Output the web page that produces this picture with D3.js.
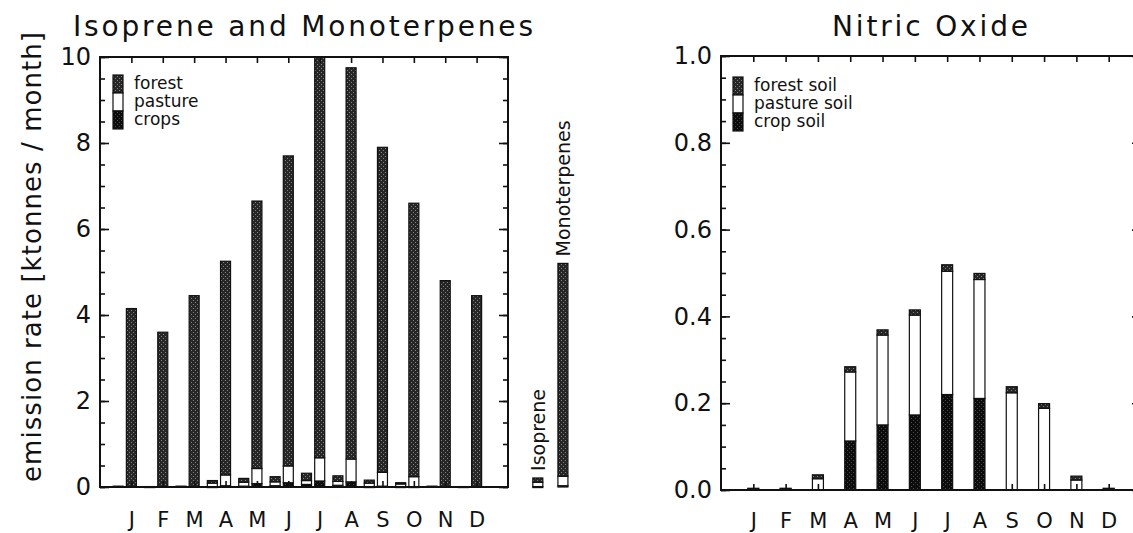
<!DOCTYPE html>
<html>
<head>
<meta charset="utf-8">
<script src="https://cdn.jsdelivr.net/npm/d3@7"></script>
<style>
body { margin: 0; background: #fff; }
text { font-family: "DejaVu Sans", sans-serif; fill: #111; }
</style>
</head>
<body>
<svg id="chart" width="1133" height="533"></svg>
<script>
// month labels
const months = ["J", "F", "M", "A", "M", "J", "J", "A", "S", "O", "N", "D"];

// Isoprene and Monoterpenes, ktonnes / month
const monoForest  = [4.15, 3.6, 4.45, 4.97, 6.22, 7.21, 9.62, 9.10, 7.56, 6.36, 4.8, 4.45];
const monoPasture = [0, 0, 0, 0.25, 0.35, 0.39, 0.54, 0.53, 0.32, 0.23, 0, 0];
const monoCrops   = [0, 0, 0, 0.03, 0.08, 0.10, 0.14, 0.12, 0.02, 0.01, 0, 0];

const isoForest  = [0.02, 0.01, 0.02, 0.06, 0.09, 0.12, 0.17, 0.13, 0.07, 0.03, 0.02, 0.01];
const isoPasture = [0, 0, 0, 0.08, 0.09, 0.09, 0.09, 0.09, 0.08, 0.06, 0, 0];
const isoCrops   = [0, 0, 0, 0.01, 0.02, 0.03, 0.06, 0.04, 0.01, 0.01, 0, 0];

// annual bars at the right of the first panel
const annualNames   = ["Isoprene", "Monoterpenes"];
const annualForest  = [0.10, 4.95];
const annualPasture = [0.10, 0.22];
const annualCrops   = [0.01, 0.03];

// Nitric Oxide
const noCrop    = [0, 0, 0, 0.113, 0.150, 0.173, 0.220, 0.211, 0, 0, 0, 0];
const noPasture = [0.002, 0.002, 0.026, 0.159, 0.207, 0.230, 0.284, 0.274, 0.224, 0.188, 0.023, 0.002];
const noForest  = [0.002, 0.002, 0.009, 0.012, 0.012, 0.012, 0.015, 0.014, 0.014, 0.011, 0.009, 0.002];

const svg = d3.select("#chart");
const defs = svg.append("defs");

// stippled fills like the scanned print
function stipple(id, base, dot) {
    const p = defs.append("pattern").attr("id", id)
        .attr("width", 4).attr("height", 4)
        .attr("patternUnits", "userSpaceOnUse");
    p.append("rect").attr("width", 4).attr("height", 4).attr("fill", base);
    p.append("rect").attr("x", 1).attr("y", 0).attr("width", 1).attr("height", 1).attr("fill", dot);
    p.append("rect").attr("x", 3).attr("y", 2).attr("width", 1).attr("height", 1).attr("fill", dot);
}
stipple("forestFill", "#262626", "#858585");
stipple("cropFill", "#0c0c0c", "#4a4a4a");
const fillOf = { crops: "url(#cropFill)", pasture: "#fff", forest: "url(#forestFill)" };
const keys = ["crops", "pasture", "forest"];
const stack = d3.stack().keys(keys);

const monthIdx = d3.range(1, 13);

function axes(g, x, y, majors, minors, fmt, pad) {
    const [x0, x1] = x.range();
    const [y0, y1] = y.range();
    const clean = a => {
        a.select(".domain").remove();
        a.selectAll("line").attr("stroke", "#111").attr("stroke-width", 1.6);
        a.attr("font-family", null).attr("font-size", null);
    };
    g.append("g").attr("transform", `translate(${x0},0)`)
        .call(d3.axisLeft(y).tickValues(majors).tickSizeInner(-9).tickSizeOuter(0).tickPadding(9).tickFormat(fmt))
        .call(clean)
        .selectAll("text").style("font-size", "24px");
    g.append("g").attr("transform", `translate(${x0},0)`)
        .call(d3.axisLeft(y).tickValues(minors).tickSizeInner(-5).tickSizeOuter(0).tickFormat(""))
        .call(clean);
    g.append("g").attr("transform", `translate(${x1},0)`)
        .call(d3.axisRight(y).tickValues(majors).tickSizeInner(-9).tickSizeOuter(0).tickFormat(""))
        .call(clean);
    g.append("g").attr("transform", `translate(${x1},0)`)
        .call(d3.axisRight(y).tickValues(minors).tickSizeInner(-5).tickSizeOuter(0).tickFormat(""))
        .call(clean);
    g.append("g").attr("transform", `translate(0,${y1})`)
        .call(d3.axisTop(x).tickValues(monthIdx).tickSizeInner(-6).tickSizeOuter(0).tickFormat(""))
        .call(clean);
    g.append("g").attr("transform", `translate(0,${y0})`)
        .call(d3.axisBottom(x).tickValues(monthIdx).tickSizeInner(-6).tickSizeOuter(0).tickPadding(pad)
            .tickFormat(d => months[d - 1]))
        .call(clean)
        .selectAll("text").style("font-size", "21px");
    g.append("rect")
        .attr("x", x0).attr("y", y1)
        .attr("width", x1 - x0).attr("height", y0 - y1)
        .attr("fill", "none").attr("stroke", "#111").attr("stroke-width", 2);
}

function bars(g, rows, x, y, offset, w) {
    const series = stack(rows);
    g.selectAll(null)
        .data(series)
        .join("g")
        .attr("fill", s => fillOf[s.key])
        .selectAll("rect")
        .data(s => s.filter(d => d[1] - d[0] > 0))
        .join("rect")
        .attr("x", d => x(d.data.pos + offset) - w / 2)
        .attr("y", d => y(d[1]))
        .attr("width", w)
        .attr("height", d => Math.max(y(d[0]) - y(d[1]), 1))
        .attr("stroke", "#111")
        .attr("stroke-width", 1.2);
}

function legend(g, x, yTop, labels) {
    const h = 18;
    labels.forEach((lab, i) => {
        const k = ["forest", "pasture", "crops"][i];
        g.append("rect")
            .attr("x", x).attr("y", yTop + i * h)
            .attr("width", 10).attr("height", h)
            .attr("fill", fillOf[k]).attr("stroke", "#111").attr("stroke-width", 1.2);
        g.append("text")
            .attr("x", x + 21).attr("y", yTop + i * h + 14)
            .style("font-size", "17px")
            .text(lab);
    });
}

// ---------- left panel ----------
const gL = svg.append("g");
const xL = d3.scaleLinear().domain([0, 13]).range([100, 508]);
const yL = d3.scaleLinear().domain([0, 10]).range([487, 57]);

const clipL = defs.append("clipPath").attr("id", "clipL");
clipL.append("rect").attr("x", 0).attr("y", 57).attr("width", 1133).attr("height", 476);

const monoRows = months.map((m, i) => ({ pos: i + 1, crops: monoCrops[i], pasture: monoPasture[i], forest: monoForest[i] }));
const isoRows  = months.map((m, i) => ({ pos: i + 1, crops: isoCrops[i], pasture: isoPasture[i], forest: isoForest[i] }));
const annualPos = [13.95, 14.75];
const annualRows = annualNames.map((n, i) => ({ pos: annualPos[i], crops: annualCrops[i], pasture: annualPasture[i], forest: annualForest[i] }));

const barsL = gL.append("g").attr("clip-path", "url(#clipL)");
bars(barsL, isoRows, xL, yL, -0.42, 10);
bars(barsL, monoRows, xL, yL, 0, 10);
bars(gL, annualRows, xL, yL, 0, 10);

axes(gL, xL, yL, d3.range(0, 10.01, 2), d3.range(0, 10.01, 0.5), d3.format("d"), 25);

// labels of the annual bars, set vertically above them
annualRows.forEach((r, i) => {
    const tot = r.crops + r.pasture + r.forest;
    gL.append("text")
        .attr("transform", `translate(${xL(r.pos) + 7},${yL(tot) - 7}) rotate(-90)`)
        .style("font-size", "19px")
        .text(annualNames[i]);
});

legend(gL, 113, 75, ["forest", "pasture", "crops"]);

gL.append("text")
    .attr("x", 303).attr("y", 36)
    .attr("text-anchor", "middle")
    .attr("textLength", 460)
    .style("font-size", "28px")
    .text("Isoprene and Monoterpenes");

gL.append("text")
    .attr("transform", "translate(41,257) rotate(-90)")
    .attr("text-anchor", "middle")
    .attr("textLength", 450)
    .style("font-size", "26px")
    .text("emission rate [ktonnes / month]");

// ---------- right panel ----------
const gR = svg.append("g");
const xR = d3.scaleLinear().domain([0, 13]).range([721, 1141]);
const yR = d3.scaleLinear().domain([0, 1]).range([490, 56]);

const noRows = months.map((m, i) => ({ pos: i + 1, crops: noCrop[i], pasture: noPasture[i], forest: noForest[i] }));
bars(gR, noRows, xR, yR, 0, 11);

axes(gR, xR, yR, d3.range(0, 1.001, 0.2), d3.range(0, 1.001, 0.05), d3.format(".1f"), 23);

legend(gR, 733, 77, ["forest soil", "pasture soil", "crop soil"]);

gR.append("text")
    .attr("x", 930).attr("y", 36)
    .attr("text-anchor", "middle")
    .attr("textLength", 196)
    .style("font-size", "28px")
    .text("Nitric Oxide");
</script>
</body>
</html>
